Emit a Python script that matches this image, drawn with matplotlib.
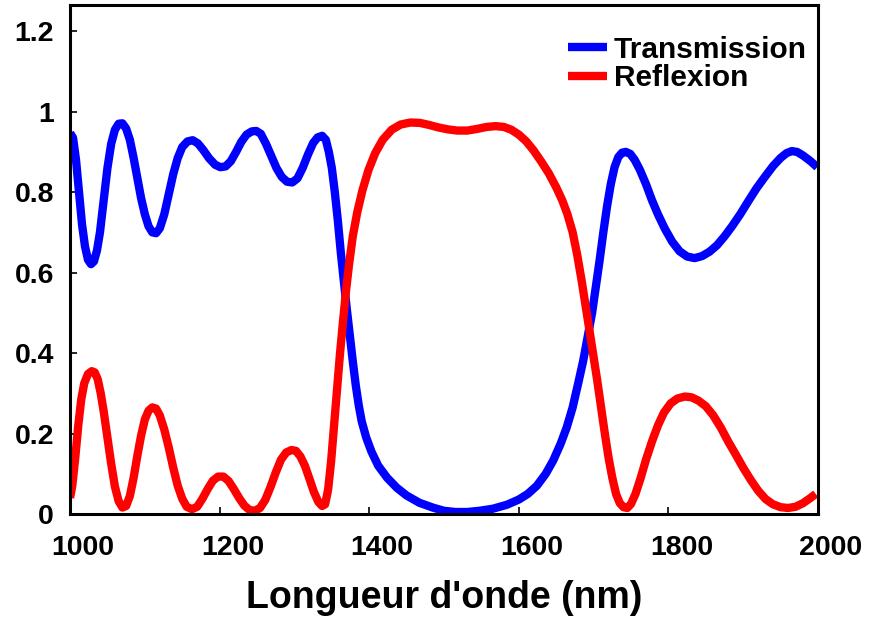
import numpy as np
import matplotlib
matplotlib.use('Agg')
import matplotlib.pyplot as plt
import matplotlib.transforms as mtransforms

## Data

wl_T = [1000, 1004, 1008, 1012, 1016, 1020, 1024, 1028, 1032, 1036, 1040, 1045, 1050, 1055,
        1060, 1065, 1070, 1075, 1080, 1085, 1090, 1095, 1100, 1105, 1110, 1115, 1120, 1126,
        1132, 1138, 1144, 1150, 1157, 1164, 1171, 1178, 1186, 1194, 1201, 1208, 1215, 1222,
        1229, 1236, 1243, 1249, 1255, 1262, 1269, 1276, 1283, 1290, 1297, 1304, 1311, 1318,
        1325, 1331, 1337, 1342, 1346, 1350, 1354, 1358, 1362, 1366, 1370, 1374, 1378, 1382,
        1386, 1390, 1396, 1403, 1412, 1424, 1437, 1450, 1467, 1485, 1500, 1515, 1531, 1547,
        1565, 1584, 1600, 1612, 1624, 1636, 1646, 1656, 1664, 1672, 1680, 1686, 1692, 1698,
        1703, 1708, 1713, 1718, 1723, 1728, 1733, 1738, 1743, 1749, 1755, 1762, 1770, 1778,
        1786, 1795, 1805, 1815, 1825, 1835, 1845, 1855, 1865, 1875, 1885, 1896, 1907, 1918,
        1929, 1940, 1950, 1958, 1965, 1972, 1980, 1990, 1999]
transmission = [0.947, 0.935, 0.88, 0.80, 0.72, 0.665, 0.632, 0.621, 0.628, 0.655, 0.70, 0.78, 0.86, 0.92,
                0.955, 0.970, 0.971, 0.958, 0.93, 0.885, 0.835, 0.785, 0.745, 0.715, 0.700, 0.698, 0.710, 0.745,
                0.795, 0.845, 0.885, 0.912, 0.926, 0.929, 0.921, 0.905, 0.884, 0.868, 0.862, 0.864, 0.877, 0.900,
                0.925, 0.943, 0.951, 0.952, 0.945, 0.92, 0.89, 0.86, 0.838, 0.826, 0.824, 0.834, 0.86, 0.893,
                0.922, 0.936, 0.940, 0.930, 0.90, 0.86, 0.80, 0.73, 0.65, 0.58, 0.51, 0.445, 0.38, 0.32,
                0.27, 0.23, 0.19, 0.155, 0.12, 0.09, 0.065, 0.046, 0.028, 0.016, 0.008, 0.005, 0.005, 0.008,
                0.013, 0.023, 0.036, 0.05, 0.07, 0.10, 0.133, 0.175, 0.215, 0.265, 0.33, 0.38, 0.44, 0.50,
                0.565, 0.63, 0.70, 0.765, 0.82, 0.862, 0.887, 0.898, 0.900, 0.895, 0.88, 0.855, 0.82, 0.78,
                0.745, 0.71, 0.677, 0.653, 0.64, 0.636, 0.641, 0.652, 0.668, 0.69, 0.715, 0.745, 0.778, 0.81,
                0.838, 0.865, 0.885, 0.897, 0.902, 0.900, 0.891, 0.877, 0.862]

wl_R = [1000, 1003, 1007, 1011, 1015, 1019, 1024, 1029, 1033, 1037, 1041, 1045, 1050, 1055,
        1060, 1065, 1070, 1075, 1080, 1085, 1090, 1095, 1100, 1105, 1110, 1115, 1120, 1126,
        1132, 1138, 1144, 1150, 1156, 1163, 1170, 1177, 1184, 1191, 1198, 1205, 1212, 1219,
        1226, 1233, 1240, 1247, 1254, 1261, 1268, 1275, 1282, 1289, 1296, 1302, 1308, 1314,
        1320, 1326, 1332, 1337, 1341, 1345, 1349, 1353, 1357, 1361, 1365, 1369, 1373, 1378,
        1384, 1391, 1399, 1408, 1418, 1430, 1442, 1455, 1468, 1480, 1492, 1505, 1518, 1531,
        1544, 1557, 1569, 1580, 1590, 1600, 1610, 1620, 1630, 1640, 1650, 1658, 1665, 1672,
        1678, 1684, 1690, 1695, 1700, 1705, 1710, 1715, 1720, 1725, 1730, 1735, 1740, 1745,
        1750, 1756, 1763, 1770, 1778, 1786, 1794, 1803, 1812, 1822, 1831, 1840, 1850, 1860,
        1870, 1880, 1890, 1900, 1910, 1920, 1930, 1940, 1950, 1960, 1970, 1980, 1990, 1997]
reflexion = [0.04, 0.07, 0.14, 0.22, 0.285, 0.325, 0.348, 0.355, 0.352, 0.335, 0.30, 0.255, 0.19, 0.125,
             0.068, 0.032, 0.016, 0.02, 0.045, 0.09, 0.145, 0.195, 0.235, 0.257, 0.265, 0.262, 0.245, 0.21,
             0.165, 0.115, 0.07, 0.038, 0.018, 0.012, 0.018, 0.038, 0.062, 0.083, 0.093, 0.093, 0.082, 0.062,
             0.04, 0.021, 0.01, 0.008, 0.015, 0.035, 0.067, 0.103, 0.135, 0.153, 0.159, 0.157, 0.143, 0.12,
             0.088, 0.055, 0.03, 0.02, 0.024, 0.06, 0.13, 0.22, 0.31, 0.40, 0.48, 0.555, 0.62, 0.69,
             0.75, 0.805, 0.855, 0.897, 0.93, 0.955, 0.968, 0.973, 0.972, 0.967, 0.961, 0.956, 0.953, 0.953,
             0.957, 0.962, 0.964, 0.962, 0.955, 0.943, 0.926, 0.903, 0.876, 0.847, 0.812, 0.78, 0.745, 0.70,
             0.645, 0.58, 0.51, 0.45, 0.39, 0.33, 0.265, 0.2, 0.14, 0.09, 0.05, 0.027, 0.017, 0.015,
             0.025, 0.05, 0.09, 0.135, 0.18, 0.22, 0.252, 0.275, 0.287, 0.292, 0.290, 0.282, 0.268, 0.245,
             0.215, 0.18, 0.148, 0.115, 0.085, 0.058, 0.037, 0.024, 0.017, 0.015, 0.018, 0.027, 0.04, 0.05]

xticks = [1000, 1200, 1400, 1600, 1800, 2000]
yticks = [0, 0.2, 0.4, 0.6, 0.8, 1, 1.2]
ytick_labels = ['0', '0.2', '0.4', '0.6', '0.8', '1', '1.2']

## plot

plt.rcParams['font.family'] = ['Liberation Sans', 'DejaVu Sans']
plt.rcParams['font.weight'] = 'bold'

fig = plt.figure(figsize=(8.69, 6.29), dpi=100)
ax = fig.add_axes([0.0806, 0.1828, 0.8607, 0.8092])

lw = 6.0
ax.plot(wl_T, transmission, color='#0000ff', linewidth=lw, solid_capstyle='butt',
        solid_joinstyle='round', label='Transmission')
ax.plot(wl_R, reflexion, color='#ff0000', linewidth=lw, solid_capstyle='butt',
        solid_joinstyle='round', label='Reflexion')

ax.set_xlim(1000, 2000)
ax.set_ylim(0, 1.265)
ax.set_xticks(xticks)
ax.set_yticks(yticks)
ax.set_yticklabels(ytick_labels)

for sp in ax.spines.values():
    sp.set_linewidth(2.2)

ax.tick_params(axis='both', direction='in', length=5, width=1.2, labelsize=20.5)
ax.tick_params(axis='y', pad=11.5)
ax.tick_params(axis='x', pad=15)

# the x labels sit a bit right of their ticks in the original
offset = mtransforms.ScaledTranslation(0.13, 0, fig.dpi_scale_trans)
for lab in ax.get_xticklabels():
    lab.set_transform(lab.get_transform() + offset)
    lab.set_fontweight('bold')
for lab in ax.get_yticklabels():
    lab.set_fontweight('bold')

ax.set_xlabel("Longueur d'onde (nm)", fontsize=27, fontweight='bold', labelpad=14)

leg = ax.legend(loc='upper left', bbox_to_anchor=(0.666, 0.94), frameon=False,
                fontsize=21.5, handlelength=1.3, handletextpad=0.22, labelspacing=0.02,
                borderpad=0, borderaxespad=0)
for t in leg.get_texts():
    t.set_fontweight('bold')

plt.savefig('out.png', dpi=100)
